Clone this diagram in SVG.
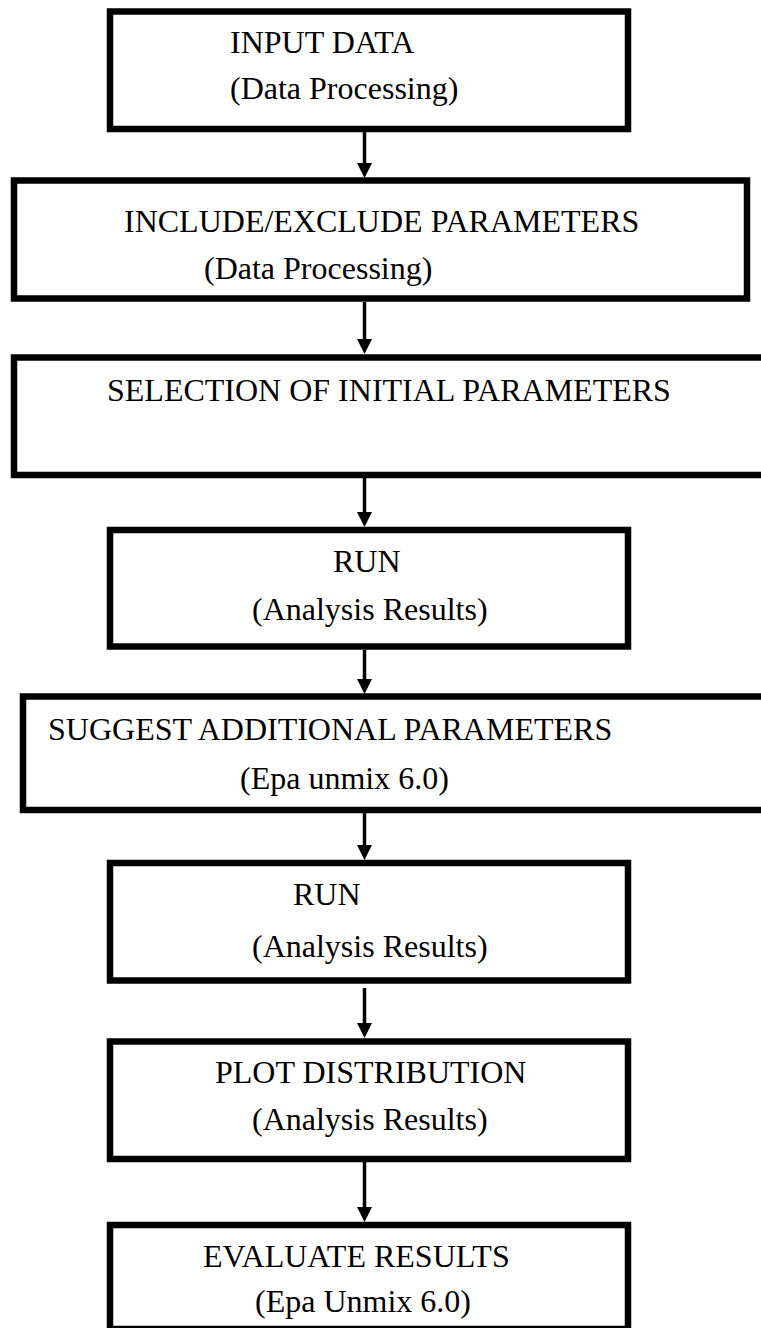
<svg xmlns="http://www.w3.org/2000/svg" width="761" height="1328" viewBox="0 0 761 1328">
<style>
.box{fill:#fff;stroke:#000;stroke-width:6.5}
.t{font-family:"Liberation Serif","Times New Roman",serif;font-size:32px;fill:#000}
.c{stroke:#000;stroke-width:3.5;fill:none}
</style>
<defs>
<marker id="ah" markerUnits="userSpaceOnUse" markerWidth="15" markerHeight="15" viewBox="0 0 15 15" refX="3" refY="7.5" orient="auto">
<path d="M0,0 L15,7.5 L0,15 z" fill="#000"/>
</marker>
</defs>
<rect width="761" height="1328" fill="#fff"/>
<g id="n1"><rect class="box" x="110" y="11.5" width="518" height="117.5"/>
<text class="t" x="230" y="53">INPUT DATA</text><text class="t" x="230" y="99">(Data Processing)</text></g>
<g id="n2"><rect class="box" x="14" y="180.5" width="733" height="118"/>
<text class="t" x="124" y="232">INCLUDE/EXCLUDE PARAMETERS</text><text class="t" x="204" y="279">(Data Processing)</text></g>
<g id="n3"><rect class="box" x="14" y="357.5" width="760" height="117.5"/>
<text class="t" x="107" y="401">SELECTION OF INITIAL PARAMETERS</text></g>
<g id="n4"><rect class="box" x="110" y="530" width="518" height="116.5"/>
<text class="t" x="333" y="572">RUN</text><text class="t" x="252" y="620">(Analysis Results)</text></g>
<g id="n5"><rect class="box" x="23" y="696.5" width="750" height="113.5"/>
<text class="t" x="48" y="740">SUGGEST ADDITIONAL PARAMETERS</text><text class="t" x="240" y="789">(Epa unmix 6.0)</text></g>
<g id="n6"><rect class="box" x="110" y="863" width="518" height="117.5"/>
<text class="t" x="293" y="905">RUN</text><text class="t" x="252" y="957">(Analysis Results)</text></g>
<g id="n7"><rect class="box" x="110" y="1041.5" width="518" height="117.5"/>
<text class="t" x="215" y="1083">PLOT DISTRIBUTION</text><text class="t" x="252" y="1130">(Analysis Results)</text></g>
<g id="n8"><rect class="box" x="110" y="1225" width="518" height="104"/>
<text class="t" x="203" y="1267">EVALUATE RESULTS</text><text class="t" x="255" y="1312">(Epa Unmix 6.0)</text></g>
<g id="connectors">
<line class="c" x1="364.5" y1="132" x2="364.5" y2="166" marker-end="url(#ah)"/>
<line class="c" x1="364.5" y1="302" x2="364.5" y2="342" marker-end="url(#ah)"/>
<line class="c" x1="364.5" y1="478" x2="364.5" y2="515" marker-end="url(#ah)"/>
<line class="c" x1="364.5" y1="650" x2="364.5" y2="682" marker-end="url(#ah)"/>
<line class="c" x1="364.5" y1="813" x2="364.5" y2="848" marker-end="url(#ah)"/>
<line class="c" x1="364.5" y1="988" x2="364.5" y2="1026" marker-end="url(#ah)"/>
<line class="c" x1="364.5" y1="1162" x2="364.5" y2="1210" marker-end="url(#ah)"/>
</g>
</svg>
